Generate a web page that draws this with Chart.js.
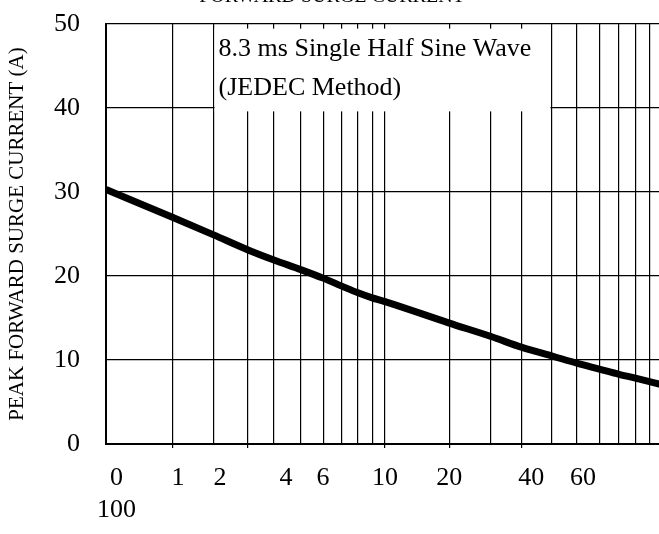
<!DOCTYPE html>
<html>
<head>
<meta charset="utf-8">
<script src="https://cdn.jsdelivr.net/npm/chart.js@4/dist/chart.umd.min.js"></script>
<style>
  html, body { margin: 0; padding: 0; overflow: hidden; background: #fff; }
  #wrap { position: relative; width: 659px; height: 534px; overflow: hidden; }
  #surgeChart { position: absolute; left: 0; top: -20px; }
</style>
</head>
<body>
<div id="wrap">
  <canvas id="surgeChart" width="670" height="560"></canvas>
</div>
<script>
'use strict';

// number of cycles at 60 Hz (x) and peak surge current in A (y)
const cycles  = [1, 1.73, 2.43, 3.23, 4, 5, 6, 7, 8, 9, 10, 17, 24, 31, 40, 49, 59, 69, 79, 100];
const current = [30.3, 27.0, 24.9, 23.1, 21.9, 20.75, 19.75, 18.8, 18.0, 17.4, 16.95, 14.4, 12.8, 11.5, 10.45, 9.6, 8.9, 8.3, 7.85, 7.0];

// where the vertical grid lines sit (the sheet's grid is not a clean 2..9 log grid)
const gridValues = [1.73, 2.43, 3.23, 4, 5, 6, 7, 8, 9, 10, 17, 24, 31, 39.5, 48.5, 58.7, 69, 79, 88.7];
// the few lines that poke a little below the axis
const markedValues = [1.73, 3.23, 10, 17, 31];

// x tick labels and where they are printed on the axis
const tickLabels = [['0', '100'], '1', '2', '4', '6', '10', '20', '40', '60'];
const tickLabelValues = [1.09, 1.81, 2.56, 4.42, 6, 10, 17, 33.4, 51.2];

const yTicks = [0, 10, 20, 30, 40, 50];

const noteLines = ['8.3 ms Single Half Sine Wave', '(JEDEC Method)'];

const serif = "'Liberation Serif', 'Times New Roman', Times, serif";
const black = '#000';
const clear = 'rgba(0,0,0,0)';

// white box with the test condition, covers the grid behind it
const noteBox = {
  id: 'noteBox',
  beforeDatasetsDraw(chart){
    const {ctx, scales} = chart;
    const left = scales.x.getPixelForValue(2.43) + 1;
    const right = scales.x.getPixelForValue(39.5) - 1;
    const top = scales.y.getPixelForValue(49.45);
    const bottom = scales.y.getPixelForValue(39.6);
    ctx.save();
    ctx.fillStyle = '#fff';
    ctx.fillRect(left, top, right - left, bottom - top);
    ctx.fillStyle = black;
    ctx.font = '26px ' + serif;
    ctx.textBaseline = 'alphabetic';
    ctx.textAlign = 'left';
    ctx.fillText(noteLines[0], left + 4, top + 27.5);
    ctx.fillText(noteLines[1], left + 4, top + 66.5);
    ctx.restore();
  }
};

function buildXTicks(scale){
  let ticks = gridValues.map(v => ({value: v, grid: true, text: ''}));
  tickLabelValues.forEach((v, i) => {
    let t = ticks.find(tk => tk.value === v);
    if(t){
      t.text = tickLabels[i];
    }else{
      ticks.push({value: v, grid: false, text: tickLabels[i]});
    }
  });
  ticks.sort((a, b) => a.value - b.value);
  scale.ticks = ticks;
}

Chart.defaults.color = black;
Chart.defaults.font.family = serif;

new Chart(document.getElementById('surgeChart'), {
  type: 'line',
  data: {
    datasets: [{
      data: cycles.map((c, i) => ({x: c, y: current[i]})),
      borderColor: black,
      borderWidth: 7,
      pointRadius: 0,
      cubicInterpolationMode: 'monotone',
      fill: false
    }]
  },
  options: {
    responsive: false,
    animation: false,
    layout: { padding: {left: 0, right: 6, top: 0, bottom: 0} },
    plugins: {
      legend: { display: false },
      tooltip: { enabled: false },
      title: {
        display: true,
        text: 'FORWARD SURGE CURRENT',
        color: black,
        font: { family: serif, size: 20, weight: 'normal' },
        padding: { top: 5, bottom: 15 }
      }
    },
    scales: {
      x: {
        type: 'logarithmic',
        min: 1,
        max: 100,
        afterBuildTicks: buildXTicks,
        border: { color: black, width: 2 },
        grid: {
          color: ctx => (ctx.tick && ctx.tick.grid) ? black : clear,
          lineWidth: 1.2,
          drawTicks: true,
          tickLength: 4,
          tickColor: ctx => (ctx.tick && markedValues.includes(ctx.tick.value)) ? black : clear
        },
        ticks: {
          autoSkip: false,
          maxRotation: 0,
          minRotation: 0,
          padding: 14,
          color: black,
          font: { family: serif, size: 26, lineHeight: 1.23 },
          callback: (value, index, ticks) => ticks[index].text
        }
      },
      y: {
        type: 'linear',
        min: 0,
        max: 50,
        afterBuildTicks: scale => { scale.ticks = yTicks.map(v => ({value: v})); },
        afterFit: scale => { scale.width = 106; },
        border: { color: black, width: 2 },
        grid: { color: black, lineWidth: 1.2, drawTicks: false },
        ticks: {
          padding: 26,
          color: black,
          font: { family: serif, size: 26 }
        },
        title: {
          display: true,
          text: 'PEAK FORWARD SURGE CURRENT (A)',
          color: black,
          font: { family: serif, size: 21, weight: 'normal' },
          padding: { top: 5, bottom: 0 }
        }
      }
    }
  },
  plugins: [noteBox]
});
</script>
</body>
</html>
